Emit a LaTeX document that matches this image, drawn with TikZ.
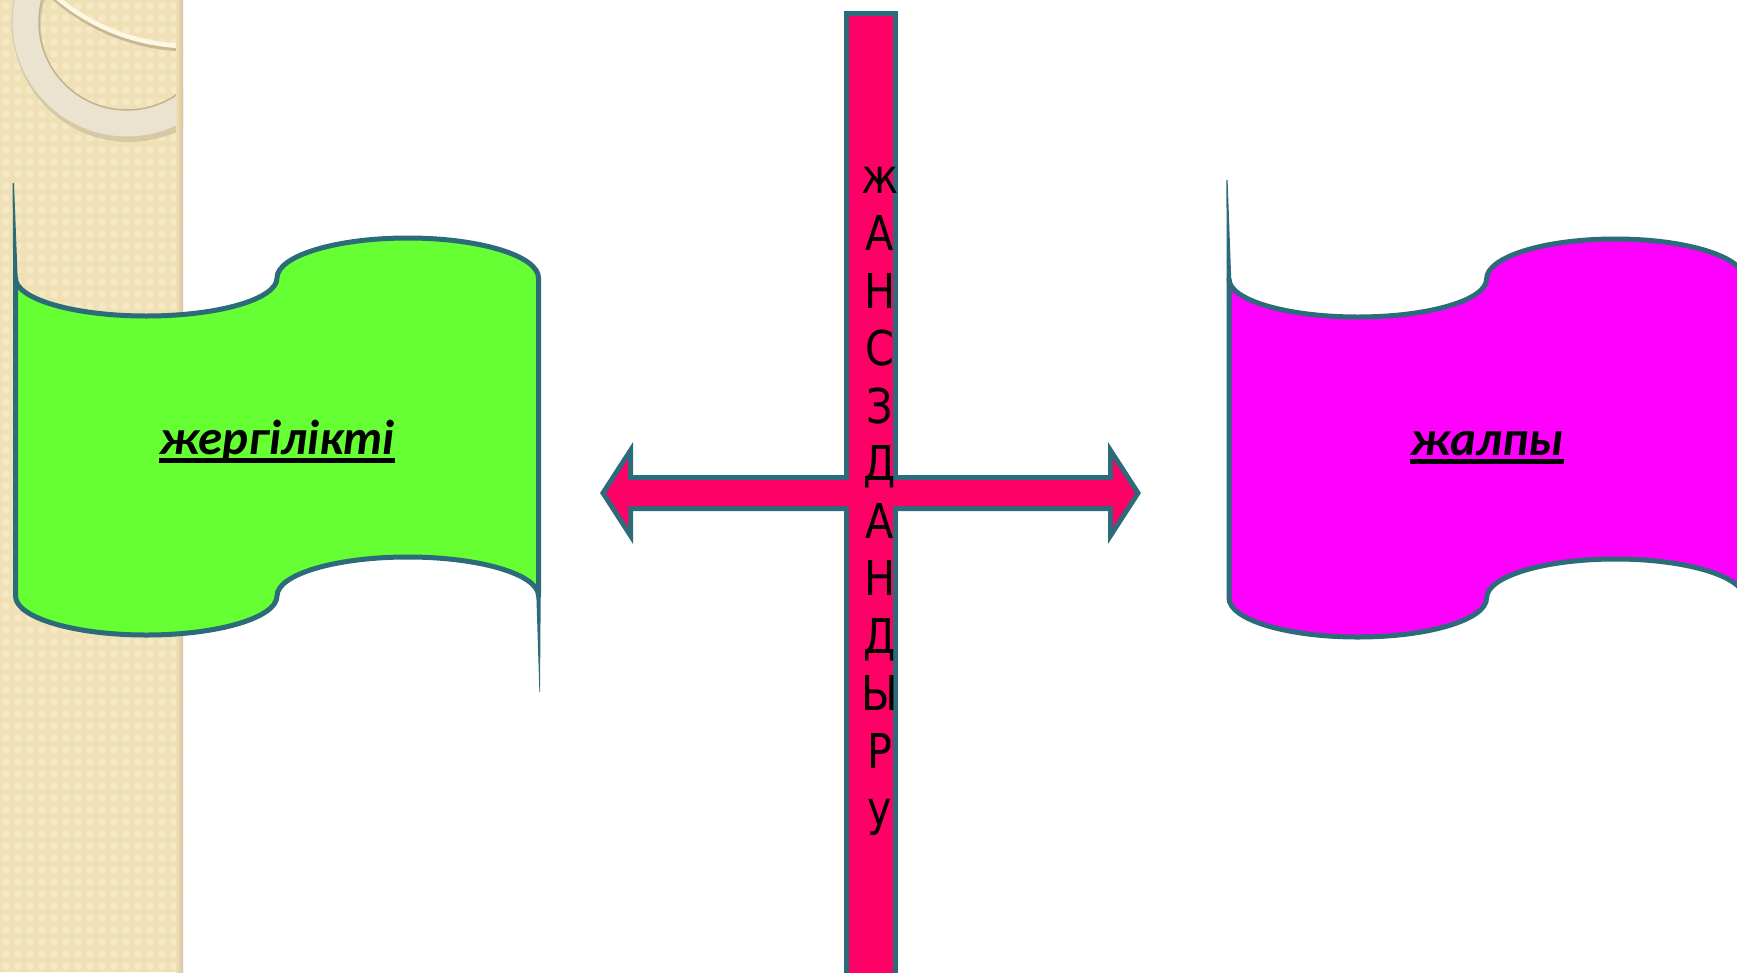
\documentclass[tikz,border=0pt]{standalone}
\usepackage{fontspec}
\newfontfamily\carlito{Carlito}
\newfontfamily\dvsans[FakeStretch=0.86]{DejaVu Sans}
\definecolor{pinkc}{RGB}{255,0,102}
\definecolor{tealc}{RGB}{43,107,122}
\definecolor{greenc}{RGB}{102,255,51}
\definecolor{magc}{RGB}{255,0,255}
\definecolor{beigec}{RGB}{240,224,181}
\definecolor{beigelight}{RGB}{245,232,196}
\definecolor{beigedark}{RGB}{214,198,160}
\definecolor{ringc}{RGB}{234,227,208}
\definecolor{ringedge}{RGB}{196,178,140}
\definecolor{shadowc}{RGB}{200,184,148}
\definecolor{creamc}{RGB}{253,248,228}
\newcommand\flagoutline[1]{(0,0) .. controls (0,21) and (58.5,38) .. (130.75,38) .. controls (203,38) and (261.5,21) .. (261.5,0) .. controls (261.5,-22) and (320,-40) .. (392.25,-40) .. controls (464.5,-40) and (523,-22) .. (523,0) -- (523,#1) .. controls (523,#1-21.5) and (464.5,#1-39) .. (392.25,#1-39) .. controls (320,#1-39) and (261.5,#1-21.5) .. (261.5,#1) .. controls (261.5,#1+21.5) and (203,#1+39) .. (130.75,#1+39) .. controls (58.5,#1+39) and (0,#1+21.5) .. (0,#1) -- cycle}
\newcommand\arrowoutline{(606,493) -- (628,459) -- (628,480) -- (1113,480) -- (1113,459) -- (1135,493) -- (1113,527) -- (1113,506) -- (628,506) -- (628,527) -- cycle}
\begin{document}
\begin{tikzpicture}[x=1pt,y=-1pt,
  flagline/.style={draw=tealc, line width=5, line join=round},
  poleshape/.style={fill=tealc},
  vletter/.style={font=\dvsans\fontsize{48}{48}\selectfont, anchor=base, inner sep=0pt, text=black},
  flagtext/.style={font=\carlito\bfseries\itshape\fontsize{49}{49}\selectfont, anchor=base, inner sep=0pt, text=black},
  uline/.style={line width=5, black},
  frame/.style={draw=tealc, line width=10, line join=miter},
  crossfill/.style={fill=pinkc}]
\useasboundingbox (0,0) rectangle (1737,972);
\clip (0,0) rectangle (1737,972);
\fill[white] (0,0) rectangle (1737,972);
% decorative strip
\fill[beigec] (0,0) rectangle (183,972);
\begin{scope}
  \clip (0,0) rectangle (183,972);
  \foreach \i in {0,...,15} {
    \foreach \j in {0,...,81} {
      \fill[beigelight] (\i*12+6,\j*12+6) circle (3.8pt);
    }
  }
  \fill[shadowc, opacity=0.6, even odd rule] (129,26) circle (116pt) (129,26) circle (88pt);
  \fill[ringc, even odd rule] (127,22) circle (115pt) (127,22) circle (88pt);
  \draw[ringedge, line width=1.5] (127,22) circle (88pt);
  \draw[ringedge!70, line width=1] (127,22) circle (115pt);
  \draw[shadowc, line width=3] (190,-157) circle (207pt);
  \draw[creamc, line width=4.5] (190,-161) circle (207pt);
  \shade[left color=beigec, right color=beigedark] (176,0) rectangle (183,972);
\end{scope}
% left flag
\fill[poleshape] (12.6,183) -- (14.0,183) -- (17.8,281) -- (13.2,281) -- cycle;
\fill[poleshape] (536.3,594) -- (540.7,594) -- (540.0,692) -- (539.4,692) -- cycle;
\draw[flagline, fill=greenc, shift={(15.5,278)}] \flagoutline{318};
% right flag
\fill[poleshape] (1226.4,180) -- (1227.6,180) -- (1231.3,281) -- (1226.7,281) -- cycle;
\draw[flagline, fill=magc, shift={(1229,279)}, xscale=0.985] \flagoutline{319};
% cross: vertical bar and double arrow
\draw[frame] (849,16) rectangle (893,1000);
\draw[frame] \arrowoutline;
\fill[crossfill] (849,16) rectangle (893,1000);
\fill[crossfill] \arrowoutline;
% vertical text
\foreach \ch [count=\i] in {ж,А,Н,С,З,Д,А,Н,Д,Ы,Р,у} {
  \node[vletter] (v\i) at (880,{193+57.5*(\i-1)}) {\ch};
}
% flag texts
\node[flagtext] (t1) at (277,454) {жергілікті};
\draw[uline] ([yshift=-6pt]t1.base west) -- ([yshift=-6pt]t1.base east);
\node[flagtext] (t2) at (1487,455) {жалпы};
\draw[uline] ([yshift=-6pt]t2.base west) -- ([yshift=-6pt]t2.base east);
\end{tikzpicture}
\end{document}
